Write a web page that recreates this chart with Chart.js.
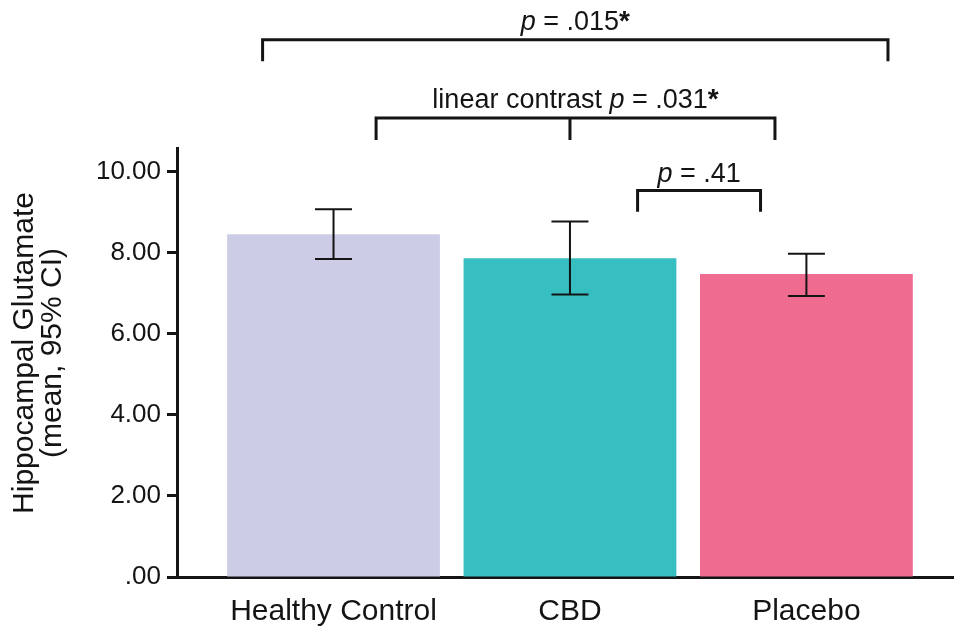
<!DOCTYPE html>
<html>
<head>
<meta charset="utf-8">
<script src="https://cdn.jsdelivr.net/npm/chart.js@4/dist/chart.umd.min.js"></script>
<style>
  html, body { margin: 0; padding: 0; background: #fff; }
  canvas { display: block; }
</style>
</head>
<body>
<canvas id="chart" width="955" height="629"></canvas>
<script>
const categories = ['Healthy Control', 'CBD', 'Placebo']
const means = [8.45, 7.86, 7.47]
const ciLower = [7.84, 6.97, 6.93]
const ciUpper = [9.07, 8.77, 7.97]
const barColors = ['#cdcce6', '#36bec1', '#ef6b8f']
const yTickValues = [0, 2, 4, 6, 8, 10]
const yTickLabels = ['.00', '2.00', '4.00', '6.00', '8.00', '10.00']
const yTitle = ['Hippocampal Glutamate', '(mean, 95% CI)']

// comparison brackets, ends in category index units, heights in axis units
const brackets = [
    { from: -0.30, to: 2.345, mid: null, y: 13.25, drop: 0.53, textY: 13.5, label: ['p', ' = .015', '*'] },
    { from: 0.18, to: 1.867, mid: 1, y: 11.32, drop: 0.54, textY: 11.57, label: ['linear contrast ', 'p', ' = .031', '*'] },
    { from: 1.286, to: 1.806, mid: null, y: 9.53, drop: 0.52, textY: 9.75, label: ['p', ' = .41'] }
]

const FONT = '"Liberation Sans", Arial, Helvetica, sans-serif'
const INK = '#141414'

function partFont(part){
    if(part === 'p') return `italic 27px ${FONT}`
    if(part === '*') return `bold 28px ${FONT}`
    return `27px ${FONT}`
}

const annotate = {
    id: 'annotate',
    afterDatasetsDraw(chart){
        const ctx = chart.ctx
        const x = chart.scales.x
        const y = chart.scales.y
        ctx.save()
        ctx.strokeStyle = INK
        ctx.fillStyle = INK

        // error bars
        ctx.lineWidth = 2
        for(let i = 0; i < means.length; i++){
            const px = x.getPixelForValue(i)
            const top = y.getPixelForValue(ciUpper[i])
            const bot = y.getPixelForValue(ciLower[i])
            ctx.beginPath()
            ctx.moveTo(px, top); ctx.lineTo(px, bot)
            ctx.moveTo(px - 18.5, top); ctx.lineTo(px + 18.5, top)
            ctx.moveTo(px - 18.5, bot); ctx.lineTo(px + 18.5, bot)
            ctx.stroke()
        }

        // brackets + p values
        ctx.lineWidth = 3
        ctx.lineCap = 'butt'
        for(const b of brackets){
            const x1 = x.getPixelForValue(b.from)
            const x2 = x.getPixelForValue(b.to)
            const yy = y.getPixelForValue(b.y)
            const yd = y.getPixelForValue(b.y - b.drop)
            ctx.beginPath()
            ctx.moveTo(x1, yd); ctx.lineTo(x1, yy); ctx.lineTo(x2, yy); ctx.lineTo(x2, yd)
            if(b.mid !== null){
                const xm = x.getPixelForValue(b.mid)
                ctx.moveTo(xm, yy); ctx.lineTo(xm, yd)
            }
            ctx.stroke()

            let total = 0
            for(const part of b.label){
                ctx.font = partFont(part)
                total += ctx.measureText(part).width
            }
            let tx = (x1 + x2) / 2 - total / 2
            const ty = y.getPixelForValue(b.textY)
            ctx.textAlign = 'left'
            ctx.textBaseline = 'alphabetic'
            for(const part of b.label){
                ctx.font = partFont(part)
                ctx.fillText(part, tx, ty)
                tx += ctx.measureText(part).width
            }
        }

        // y axis title, two lines
        ctx.font = `30px ${FONT}`
        ctx.textAlign = 'center'
        ctx.textBaseline = 'alphabetic'
        ctx.translate(33, 353)
        ctx.rotate(-Math.PI / 2)
        ctx.fillText(yTitle[0], 0, 0)
        ctx.fillText(yTitle[1], 0, 28)
        ctx.restore()
    }
}

new Chart(document.getElementById('chart'), {
    type: 'bar',
    data: {
        datasets: [{
            data: categories.map((c, i) => ({ x: i, y: means[i] })),
            backgroundColor: barColors,
            borderWidth: 0,
            categoryPercentage: 1,
            barPercentage: 0.9
        }]
    },
    options: {
        responsive: false,
        animation: false,
        layout: { padding: { top: 148, right: 2, left: 0, bottom: 0 } },
        plugins: { legend: { display: false }, tooltip: { enabled: false } },
        scales: {
            x: {
                type: 'linear',
                offset: false,
                min: -0.662,
                max: 2.62,
                afterBuildTicks: s => { s.ticks = categories.map((c, i) => ({ value: i })) },
                afterFit: s => { s.height = 52 },
                ticks: {
                    callback: v => categories[v],
                    font: { size: 30, family: FONT },
                    color: INK,
                    padding: 17,
                    maxRotation: 0,
                    autoSkip: false
                },
                grid: { display: true, drawOnChartArea: false, drawTicks: false },
                border: { display: true, color: INK, width: 3 }
            },
            y: {
                min: 0,
                max: 10.58,
                afterBuildTicks: s => { s.ticks = yTickValues.map(v => ({ value: v })) },
                afterFit: s => { s.width = 177 },
                ticks: {
                    callback: v => yTickLabels[yTickValues.indexOf(v)],
                    font: { size: 26, family: FONT },
                    color: INK,
                    padding: 6
                },
                grid: { drawOnChartArea: false, drawTicks: true, tickLength: 10, tickColor: INK, tickWidth: 3 },
                border: { display: true, color: INK, width: 3 }
            }
        }
    },
    plugins: [annotate]
})
</script>
</body>
</html>
